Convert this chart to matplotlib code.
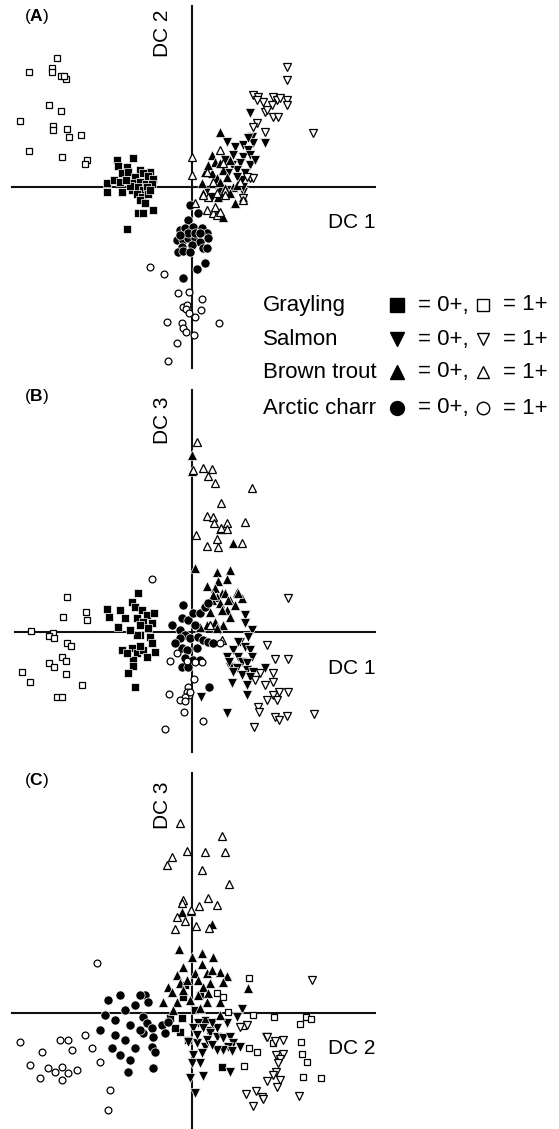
import numpy as np
import matplotlib.pyplot as plt
from matplotlib.lines import Line2D

plt.rcParams['font.family'] = ['Liberation Sans', 'DejaVu Sans']
plt.rcParams['mathtext.fontset'] = 'custom'
plt.rcParams['mathtext.rm'] = 'Liberation Sans'
plt.rcParams['mathtext.bf'] = 'Liberation Sans:bold'

# ---- panel A: DC1 (x) vs DC2 (y) ----
gray1_A = [(-13.5,12.9),(-16.3,11.5),(-14.0,11.9),(-14.0,11.5),(-13.1,11.1),(-12.6,10.8),(-12.8,11.1),
           (-14.3,8.2),(-13.1,7.6),(-17.2,6.6),(-13.9,6.1),(-13.9,5.7),(-12.5,5.8),(-12.3,5.0),(-11.1,5.2),
           (-16.3,3.6),(-13.0,3.0),(-10.5,2.7),(-10.7,2.3)]
gray0_A = [(-7.5,2.7),(-5.9,2.9),(-7.4,2.1),(-6.5,2.0),(-5.2,1.7),(-4.2,1.5),(-7.0,1.4),(-6.4,1.5),(-5.7,1.0),
           (-4.9,1.4),(-4.4,1.1),(-3.9,0.8),(-8.5,0.4),(-7.8,0.7),(-7.2,0.5),(-5.9,0.4),(-5.2,0.5),(-4.6,0.3),
           (-4.0,0.3),(-8.5,-0.5),(-7.0,-0.5),(-6.0,-0.3),(-5.4,0.0),(-4.9,-0.3),(-4.5,0.0),(-5.5,-0.7),
           (-5.0,-1.0),(-4.4,-0.7),(-5.2,-1.3),(-4.7,-1.6),(-4.2,-0.3),(-6.2,0.1),(-6.6,0.7),(-5.4,-2.6),
           (-4.9,-2.6),(-3.9,-2.3),(-6.5,-4.2)]
salm0_A = [(5.8,7.4),(3.5,4.5),(4.3,4.0),(5.1,4.2),(6.0,5.0),(6.1,4.4),(5.6,3.7),(5.1,3.0),(5.8,3.2),(5.8,2.2),
           (4.8,2.4),(4.5,1.7),(5.3,1.4),(4.0,2.2),(3.6,1.4),(5.0,0.7),(4.5,1.0),(5.1,-0.5),(7.3,4.4),(2.8,-1.1),
           (2.0,-1.0),(1.5,-0.3),(2.8,-0.3),(3.6,-0.3),(5.6,4.9),(3.3,2.7),(4.1,3.2),(2.3,0.2),(6.3,2.7),(5.1,0.0)]
salm1_A = [(9.5,12.0),(9.5,10.7),(6.1,9.2),(6.6,9.0),(7.1,8.5),(6.5,8.7),(8.1,9.0),(8.5,8.7),(8.8,8.9),(8.0,8.2),
           (9.5,8.7),(9.5,8.2),(7.3,7.5),(8.1,7.0),(8.6,7.0),(6.5,6.4),(6.1,6.0),(7.3,5.5),(12.1,5.4),(5.8,0.9),
           (6.1,0.9),(5.1,-1.1),(5.5,1.0),(7.5,7.7)]
trout0_A = [(2.8,5.5),(2.0,3.2),(2.3,2.5),(2.8,2.4),(1.3,1.5),(2.0,1.4),(3.1,1.7),(2.5,0.9),(3.5,1.0),(1.0,0.4),
            (2.1,0.4),(2.8,0.5),(3.3,-0.1),(4.1,0.0),(4.5,0.2),(4.3,-1.6),(3.1,-3.0),(1.1,-0.6),(2.6,-1.0),
            (3.8,-0.6),(5.1,-1.0),(1.6,2.2),(3.8,2.7)]
trout1_A = [(0.0,3.0),(0.0,1.2),(2.8,3.7),(1.5,1.5),(3.1,2.4),(2.1,0.5),(2.5,-0.6),(1.6,-1.0),(3.3,-0.3),
            (5.1,-1.3),(1.5,-2.3),(2.1,-2.6),(2.5,-2.8),(1.1,-0.8),(0.3,-1.6),(2.3,-2.0),(2.8,-2.5),(3.3,-0.8),
            (4.8,0.5)]
charr0_A = [(-0.2,-1.8),(0.6,-2.6),(-0.4,-3.3),(-1.2,-4.3),(-0.7,-4.1),(0.1,-4.0),(1.0,-4.1),(1.5,-4.6),
            (1.6,-5.1),(-1.5,-5.3),(-0.9,-5.3),(-0.4,-5.1),(0.3,-5.1),(0.8,-5.5),(-1.0,-6.0),(0.0,-5.8),
            (1.1,-6.1),(-1.4,-6.5),(-0.9,-6.4),(-0.2,-6.5),(1.3,-7.6),(0.5,-8.2),(-0.9,-9.1),(-0.4,-4.6),
            (0.3,-4.6),(-1.2,-4.8),(0.8,-4.6),(1.5,-6.1)]
charr1_A = [(-4.2,-8.0),(-2.8,-8.7),(-1.4,-10.6),(-0.3,-10.5),(1.0,-11.2),(-0.9,-12.0),(-0.5,-11.8),
            (-0.6,-12.2),(-0.3,-12.6),(0.9,-12.3),(0.3,-13.0),(-2.5,-13.5),(-1.0,-13.6),(-0.9,-14.1),
            (-0.6,-14.5),(0.2,-14.8),(2.7,-13.6),(-1.5,-15.6),(-2.4,-17.4)]

# ---- panel B: DC1 (x) vs DC3 (y) ----
gray1_B = [(-12.5,3.5),(-12.9,1.5),(-10.6,2.0),(-10.5,1.2),(-16.1,0.1),(-13.9,-0.1),(-14.3,-0.4),(-13.8,-0.6),
           (-12.5,-1.1),(-12.1,-1.4),(-13.0,-2.5),(-12.6,-2.9),(-14.3,-3.1),(-13.8,-3.5),(-12.6,-4.2),
           (-17.0,-4.0),(-16.2,-5.0),(-11.0,-5.3),(-13.5,-6.5),(-13.0,-6.5)]
gray0_B = [(-5.4,3.9),(-8.5,2.3),(-8.3,1.5),(-7.4,0.5),(-7.2,2.2),(-6.0,3.0),(-5.7,2.5),(-5.0,2.2),(-4.5,1.7),
           (-3.8,1.9),(-5.5,1.4),(-4.9,1.0),(-4.0,0.9),(-6.7,1.4),(-4.4,0.4),(-5.2,-0.3),(-5.5,-0.3),(-4.2,-0.5),
           (-4.0,-1.1),(-7.0,-1.8),(-6.0,-1.6),(-5.5,-2.1),(-4.9,-1.8),(-3.7,-2.0),(-4.5,-2.5),(-5.9,-2.8),
           (-5.9,-3.4),(-6.4,-4.1),(-5.7,-5.5),(-6.5,-2.1),(-5.2,-1.4),(-5.2,0.7),(-6.2,0.2)]
salm0_B = [(5.3,1.7),(5.3,0.9),(6.0,0.2),(5.6,-0.5),(4.8,-1.0),(5.3,-1.5),(5.8,-1.8),(4.1,-1.8),(3.5,-2.5),
           (4.6,-2.5),(6.0,-2.5),(5.0,-3.0),(5.5,-3.1),(3.8,-3.5),(4.5,-3.6),(5.5,-3.8),(6.1,-4.0),(7.3,-3.6),
           (4.1,-4.0),(5.0,-4.3),(5.8,-4.5),(5.5,-5.3),(4.0,-5.1),(5.5,-6.3),(0.9,-6.5),(3.5,-8.1),(2.8,0.2),
           (3.7,-3.0),(4.6,-1.0)]
salm1_B = [(9.6,3.4),(7.5,-1.3),(8.3,-2.7),(9.6,-2.7),(8.1,-4.1),(6.8,-4.1),(8.1,-5.0),(6.3,-4.8),(7.3,-5.3),
           (8.7,-6.0),(9.6,-6.0),(8.1,-6.3),(8.5,-6.8),(7.5,-6.8),(6.6,-7.5),(6.7,-8.0),(8.3,-8.5),(8.7,-8.8),
           (9.5,-8.4),(12.2,-8.2),(6.2,-9.5)]
trout0_B = [(0.0,17.7),(0.0,16.1),(2.8,10.3),(4.1,8.9),(0.3,6.4),(2.5,6.0),(3.8,6.2),(3.5,5.3),(2.6,5.1),
            (1.5,4.6),(2.3,4.4),(3.0,3.9),(3.3,3.9),(4.5,4.0),(5.0,3.4),(3.8,3.2),(2.5,3.5),(2.0,3.2),(3.5,2.2),
            (2.8,2.9),(1.3,2.9),(3.0,2.2),(3.8,1.5),(2.3,1.0),(1.5,0.7),(3.1,0.7),(0.8,0.5),(2.5,0.4),(3.6,3.2),
            (2.1,3.7),(4.6,3.9),(4.3,2.7),(1.8,2.0)]
trout1_B = [(0.5,19.0),(0.1,16.2),(1.1,16.4),(2.0,16.3),(1.6,15.6),(2.3,14.9),(6.0,14.4),(2.9,12.9),(1.5,11.6),
            (2.1,11.5),(2.2,10.9),(3.5,10.9),(2.9,10.4),(3.5,10.3),(5.3,11.0),(0.4,9.7),(2.5,9.3),(1.5,8.6),
            (2.6,8.5),(5.0,8.9),(1.8,0.7),(3.0,-0.8)]
charr0_B = [(-0.9,2.7),(-1.0,1.4),(-0.4,1.2),(0.1,1.9),(0.8,1.9),(1.3,2.5),(1.6,2.9),(-1.2,0.2),(-0.7,-0.3),
            (-1.2,-0.6),(-0.2,-0.6),(0.6,-0.5),(1.1,-0.8),(1.6,-1.0),(-1.0,-1.6),(-0.5,-1.8),(0.5,-1.6),
            (-0.7,-2.6),(0.1,-2.8),(0.8,-2.8),(-1.0,-3.5),(-0.4,-3.5),(1.7,-5.5),(-1.7,-1.1),(2.1,-1.1),
            (-2.0,0.7),(0.3,0.7)]
charr1_B = [(-4.0,5.3),(-1.5,-2.1),(-2.2,-2.9),(-0.5,-2.9),(0.3,-3.0),(1.0,-3.0),(2.8,-1.1),(0.2,-4.7),
            (-0.4,-5.5),(-0.5,-6.0),(-0.3,-6.3),(-0.7,-6.5),(-1.2,-6.8),(-0.7,-6.9),(-2.3,-6.2),(-0.8,-8.0),
            (1.1,-8.9),(-2.7,-9.7),(-0.2,-6.0)]

# ---- panel C: DC2 (x) vs DC3 (y) ----
gray1_C = [(5.7,3.5),(2.5,2.0),(3.1,1.6),(3.6,0.1),(6.1,-0.2),(8.2,-0.4),(10.8,-1.1),(11.4,-0.4),(11.9,-0.6),
           (5.1,-1.3),(8.1,-3.0),(10.9,-2.9),(5.7,-3.5),(6.5,-3.9),(11.0,-4.1),(11.5,-4.9),(5.2,-5.3),
           (11.1,-6.4),(12.9,-6.5)]
gray0_C = [(-0.9,1.6),(-1.0,-0.5),(-1.2,-1.9),(3.0,-5.4),(0.3,0.3),(1.3,-0.7),(-0.4,-2.7),(-2.2,-0.5),
           (0.8,1.8),(-0.7,2.8),(1.8,-1.7),(-1.7,-1.5)]
salm0_C = [(5.0,0.4),(4.5,-0.4),(3.5,-1.0),(2.5,-1.5),(0.6,-1.0),(0.1,-1.5),(1.1,-1.5),(1.8,-2.0),(2.5,-2.4),
           (3.1,-2.5),(3.8,-2.4),(4.1,-3.0),(3.6,-3.4),(4.8,-3.4),(3.1,-3.7),(2.5,-3.7),(4.0,-3.8),(1.3,-3.4),
           (0.5,-3.0),(-0.4,-2.9),(1.0,-4.0),(0.1,-4.2),(7.4,-2.4),(0.0,-5.0),(0.8,-5.0),(3.8,-5.9),(1.1,-6.3),
           (-0.2,-6.5),(0.3,-8.0),(1.5,-2.7),(2.0,-1.0),(0.5,-2.2),(2.0,-3.2)]
salm1_C = [(12.0,3.3),(5.5,-1.2),(4.8,-1.4),(7.5,-2.4),(8.3,-2.8),(9.1,-2.7),(8.4,-4.2),(9.1,-4.1),(8.8,-4.6),
           (8.6,-5.0),(8.4,-5.9),(8.1,-6.2),(8.8,-6.7),(7.5,-6.8),(8.5,-7.4),(5.4,-8.1),(6.4,-7.8),(7.0,-8.4),
           (7.1,-8.6),(6.1,-9.3),(10.7,-8.3)]
trout0_C = [(-1.0,10.1),(-0.1,10.2),(2.0,8.9),(-1.3,6.4),(1.0,6.0),(2.1,5.6),(0.0,5.6),(1.0,4.9),(-0.9,4.6),
            (2.8,4.1),(3.5,3.7),(0.3,4.0),(1.5,4.0),(-1.5,3.8),(3.1,3.1),(5.6,2.5),(-2.4,2.6),(-2.0,2.1),
            (0.6,3.3),(1.8,3.0),(-1.2,3.0),(-0.5,3.3),(1.1,2.6),(-0.9,2.3),(0.6,1.8),(1.6,2.0),(-2.9,1.1),
            (-1.5,1.1),(1.5,1.1),(2.8,1.1),(2.8,-0.2),(-1.9,0.3),(2.0,4.3),(-0.2,1.3),(0.8,0.5)]
trout1_C = [(-1.2,19.0),(3.0,17.7),(-0.5,16.2),(1.3,16.1),(3.3,16.1),(-2.0,15.6),(-2.5,14.8),(1.0,14.3),
            (3.7,12.9),(-0.9,11.3),(-1.0,11.0),(1.6,11.5),(0.7,10.7),(2.5,10.8),(-0.1,10.3),(-1.5,9.6),
            (-0.7,9.2),(0.4,8.7),(1.7,8.5),(-1.7,8.4)]
charr0_C = [(-4.7,1.8),(-4.4,1.1),(-4.9,-0.4),(-4.5,-1.0),(-4.0,-1.5),(-4.9,-2.0),(-3.0,-1.2),(-2.7,-2.0),
            (-3.9,-2.4),(-4.0,-3.4),(-3.7,-3.9),(-3.9,-5.5),(-2.4,-0.9),(-8.4,1.3),(-7.2,1.8),(-8.7,-0.2),
            (-7.7,-0.7),(-6.7,0.3),(-6.2,-1.2),(-7.7,-2.2),(-6.7,-2.7),(-5.2,-1.7),(-5.7,-3.5),(-7.2,-4.2),
            (-6.2,-4.7),(-6.4,-5.9),(-5.2,1.8),(-9.2,-1.7),(-8.0,-3.5),(-5.7,0.8)]
charr1_C = [(-17.2,-2.9),(-15.0,-3.9),(-14.4,-5.5),(-13.7,-5.9),(-13.0,-5.4),(-12.4,-6.0),(-11.5,-5.7),
            (-12.0,-3.7),(-10.7,-2.2),(-10.0,-3.5),(-9.2,-4.9),(-13.2,-2.7),(-12.4,-2.7),(-16.2,-5.2),
            (-8.2,-7.7),(-8.4,-9.7),(-9.5,5.0),(-13.0,-6.7),(-15.2,-6.5)]

species = ['Grayling', 'Salmon', 'Brown trout', 'Arctic charr']
symbols = {'Grayling': 's', 'Salmon': 'v', 'Brown trout': '^', 'Arctic charr': 'o'}

panels = [
    ('A', 'DC 2', 'DC 1', {'Grayling': (gray0_A, gray1_A), 'Salmon': (salm0_A, salm1_A),
                           'Brown trout': (trout0_A, trout1_A), 'Arctic charr': (charr0_A, charr1_A)}),
    ('B', 'DC 3', 'DC 1', {'Grayling': (gray0_B, gray1_B), 'Salmon': (salm0_B, salm1_B),
                           'Brown trout': (trout0_B, trout1_B), 'Arctic charr': (charr0_B, charr1_B)}),
    ('C', 'DC 3', 'DC 2', {'Grayling': (gray0_C, gray1_C), 'Salmon': (salm0_C, salm1_C),
                           'Brown trout': (trout0_C, trout1_C), 'Arctic charr': (charr0_C, charr1_C)}),
]

W, H = 559, 1129
fig = plt.figure(figsize=(W / 100, H / 100), dpi=100)

# pixel bands of each panel, origin row of the crossing axes, and axis line extents
bands = [(0, 375, 187, 6, 368, 12), (380, 755, 632, 390, 752, 15), (765, 1129, 1013, 773, 1128, 12)]
ox = 192
filled_ms = {'s': 6.0, 'v': 7.0, '^': 7.0, 'o': 6.6}
open_ms = {'s': 4.8, 'v': 5.4, '^': 5.4, 'o': 4.9}

for (tag, ylab, xlab, groups), (top, bot, oy, vtop, vbot, hleft) in zip(panels, bands):
    ax = fig.add_axes([0, 1 - bot / H, 1, (bot - top) / H])
    ax.set_xlim(-ox / 10, (W - ox) / 10)
    ax.set_ylim((oy - bot) / 10, (oy - top) / 10)
    ax.axis('off')
    ax.plot([(hleft - ox) / 10, (375 - ox) / 10], [0, 0], color='#111111', lw=1.5, zorder=1)
    ax.plot([0, 0], [(oy - vbot) / 10, (oy - vtop) / 10], color='#111111', lw=1.5, zorder=1)
    for sp in species:
        m = symbols[sp]
        f0, f1 = groups[sp]
        x0, y0 = np.array(f0).T
        ax.plot(x0, y0, ls='none', marker=m, ms=filled_ms[m], mfc='black', mec='white', mew=0.5, zorder=3)
    for sp in species:
        m = symbols[sp]
        f0, f1 = groups[sp]
        x1, y1 = np.array(f1).T
        ax.plot(x1, y1, ls='none', marker=m, ms=open_ms[m], mfc='white', mec='black', mew=0.9, zorder=4)

    ax.text((37 - ox) / 10, (oy - top - 16) / 10, '($\\mathbf{%s}$)' % tag, fontsize=12.5,
            ha='center', va='center')
    ax.text((163 - ox) / 10, (oy - top - (33 if tag == 'A' else 40)) / 10, ylab, fontsize=15,
            rotation=90, ha='center', va='center')
    ax.text((352 - ox) / 10, -3.6, xlab, fontsize=15, ha='center', va='center')

# legend block
leg_rows = [305, 339, 372, 408]
for sp, py in zip(species, leg_rows):
    yf = 1 - py / H
    m = symbols[sp]
    fig.text(263 / W, yf, sp, fontsize=16, ha='left', va='center')
    fig.add_artist(Line2D([397 / W], [yf], transform=fig.transFigure, ls='none', marker=m,
                          ms=10, mfc='black', mec='black'))
    fig.text(418 / W, yf, '= 0+,', fontsize=16, ha='left', va='center')
    fig.add_artist(Line2D([483 / W], [yf], transform=fig.transFigure, ls='none', marker=m,
                          ms=9, mfc='white', mec='black', mew=1.0))
    fig.text(503 / W, yf, '= 1+', fontsize=16, ha='left', va='center')

fig.savefig('out.png', dpi=100)
